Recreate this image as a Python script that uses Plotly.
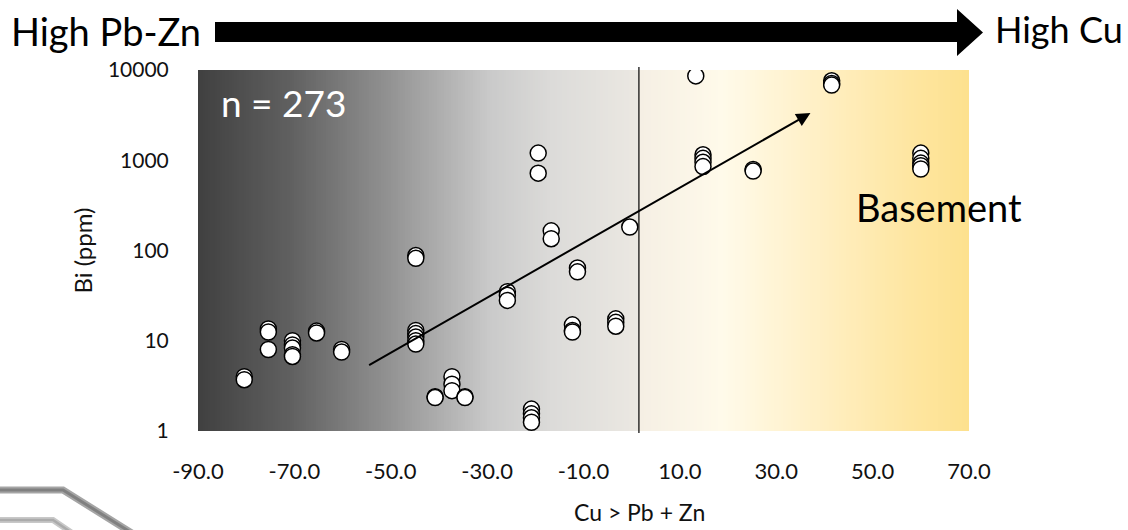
import numpy as np
import plotly.graph_objects as go

# ---------------- data ----------------
cu_index = [
    -80.4, -80.4,
    -75.4, -75.4, -75.4,
    -70.4, -70.4, -70.4, -70.4, -70.4,
    -65.4, -65.4,
    -60.2, -60.2,
    -44.8, -44.8, -44.8, -44.8, -44.8, -44.8, -44.8,
    -40.8, -40.8,
    -37.3, -37.3, -37.3,
    -34.6, -34.6,
    -25.8, -25.8, -25.8,
    -20.8, -20.8, -20.8, -20.8,
    -19.4, -19.4,
    -16.7, -16.7,
    -12.3, -12.3, -12.3,
    -11.25, -11.25,
    -3.3, -3.3, -3.3,
    -0.4,
    13.3,
    14.8, 14.8, 14.8, 14.8,
    25.2, 25.2,
    41.5, 41.5, 41.5,
    60.0, 60.0, 60.0, 60.0, 60.0,
]
bi_ppm = [
    4.0, 3.7,
    13.5, 12.5, 8.0,
    10.0, 9.0, 8.3, 7.0, 6.7,
    12.8, 12.2,
    8.0, 7.5,
    88, 82, 13.0, 12.0, 11.0, 10.0, 9.2,
    2.4, 2.35,
    4.0, 3.3, 2.8,
    2.4, 2.35,
    35, 32, 28,
    1.75, 1.55, 1.4, 1.25,
    1200, 720,
    165, 135,
    15.0, 13.0, 12.5,
    64, 58,
    17.5, 16.0, 14.5,
    182,
    8600,
    1150, 1050, 950, 850,
    790, 760,
    7600, 7100, 6800,
    1200, 1050, 930, 870, 800,
]
x_ticks = [-90, -70, -50, -30, -10, 10, 30, 50, 70]
x_tick_labels = ["-90.0", "-70.0", "-50.0", "-30.0", "-10.0", "10.0", "30.0", "50.0", "70.0"]
y_ticks = [1, 10, 100, 1000, 10000]
y_tick_labels = ["1", "10", "100", "1000", "10000"]
trend_x = [-54.8, 37.1]
trend_y = [5.25, 3330]
divider_x = 1.5
sample_label = "n = 273"

# ---------------- layout geometry ----------------
W, H = 1128, 530
L, R, T, B = 198, 159, 70, 99
PW, PH = W - L - R, H - T - B


def px(xp):
    return (xp - L) / PW


def py(yp):
    return (H - B - yp) / PH


FONT = "Lato, 'Open Sans', sans-serif"

bg_scale = [
    [0.00, "#404040"],
    [0.12, "#606060"],
    [0.25, "#939393"],
    [0.38, "#cacaca"],
    [0.46, "#dcdbd9"],
    [0.571, "#ebe8e2"],
    [0.573, "#f5efe4"],
    [0.68, "#fffaea"],
    [0.80, "#fff0c6"],
    [0.92, "#fee6a2"],
    [1.00, "#fde18e"],
]

fig = go.Figure()

edges = np.linspace(x_ticks[0], x_ticks[-1], 321)
centers = (edges[:-1] + edges[1:]) / 2
fig.add_trace(go.Heatmap(
    x=edges, y=[y_ticks[0], y_ticks[-1]], z=[centers],
    zmin=x_ticks[0], zmax=x_ticks[-1], colorscale=bg_scale,
    showscale=False, hoverinfo="skip",
))

fig.add_trace(go.Scatter(
    x=cu_index, y=bi_ppm, mode="markers",
    marker=dict(size=16, color="white", line=dict(color="black", width=1.5)),
    showlegend=False,
))

fig.update_layout(
    width=W, height=H,
    margin=dict(l=L, r=R, t=T, b=B, pad=0),
    paper_bgcolor="white", plot_bgcolor="white",
    font=dict(family=FONT, color="#111111"),
    xaxis=dict(
        range=[x_ticks[0], x_ticks[-1]], tickvals=x_ticks, ticktext=x_tick_labels,
        showgrid=False, zeroline=False, showline=False,
        ticks="outside", ticklen=0, ticklabelstandoff=21,
        tickfont=dict(size=22, family=FONT, color="#111111"),
    ),
    yaxis=dict(
        type="log", range=[0, 4], tickvals=y_ticks, ticktext=y_tick_labels,
        showgrid=False, zeroline=False, showline=False,
        ticks="outside", ticklen=0, ticklabelstandoff=24,
        tickfont=dict(size=21, family=FONT, color="#111111"),
        title=dict(text="Bi (ppm)", standoff=8, font=dict(size=24, family=FONT, color="#111111")),
    ),
    showlegend=False,
)

annotations = [
    dict(text=sample_label, x=px(219), y=py(102), xref="paper", yref="paper",
         xanchor="left", yanchor="middle", showarrow=False,
         font=dict(size=37, color="white", family=FONT)),
    dict(text="Basement", x=px(854), y=py(207), xref="paper", yref="paper",
         xanchor="left", yanchor="middle", showarrow=False,
         font=dict(size=38, color="black", family=FONT)),
    dict(text="High Pb-Zn", x=px(9), y=py(31), xref="paper", yref="paper",
         xanchor="left", yanchor="middle", showarrow=False,
         font=dict(size=38, color="black", family=FONT)),
    dict(text="High Cu", x=px(993), y=py(29), xref="paper", yref="paper",
         xanchor="left", yanchor="middle", showarrow=False,
         font=dict(size=36, color="black", family=FONT)),
    dict(text="Cu > Pb + Zn", x=px(639), y=py(512), xref="paper", yref="paper",
         xanchor="center", yanchor="middle", showarrow=False,
         font=dict(size=23, color="#111111", family=FONT)),
    dict(x=trend_x[1], y=float(np.log10(trend_y[1])), xref="x", yref="y",
         ax=trend_x[0], ay=float(np.log10(trend_y[0])), axref="x", ayref="y",
         text="", showarrow=True, arrowhead=2, arrowsize=1.4, arrowwidth=2,
         arrowcolor="black", standoff=0, startstandoff=0),
]
fig.update_layout(annotations=annotations)

big_arrow = (
    f"M {px(215)},{py(22)} L {px(957)},{py(22)} L {px(957)},{py(9)} "
    f"L {px(983)},{py(32.5)} L {px(957)},{py(56)} L {px(957)},{py(42)} "
    f"L {px(215)},{py(42)} Z"
)
deco1 = f"M {px(-5)},{py(490)} L {px(63)},{py(490)} L {px(135)},{py(535)}"
deco2 = f"M {px(-5)},{py(520)} L {px(53)},{py(520)} L {px(75)},{py(535)}"

shapes = [
    dict(type="path", path=big_arrow, xref="paper", yref="paper",
         fillcolor="black", line=dict(color="black", width=0)),
    dict(type="line", x0=divider_x, x1=divider_x, y0=py(433), y1=py(67),
         xref="x", yref="paper", line=dict(color="black", width=1.2)),
    dict(type="path", path=deco1, xref="paper", yref="paper",
         line=dict(color="#a5a5a5", width=7)),
    dict(type="path", path=deco1, xref="paper", yref="paper",
         line=dict(color="#808080", width=3)),
    dict(type="path", path=deco2, xref="paper", yref="paper",
         line=dict(color="#c8c8c8", width=6)),
    dict(type="path", path=deco2, xref="paper", yref="paper",
         line=dict(color="#ababab", width=2.5)),
]
fig.update_layout(shapes=shapes)

fig.write_html("out.html")
